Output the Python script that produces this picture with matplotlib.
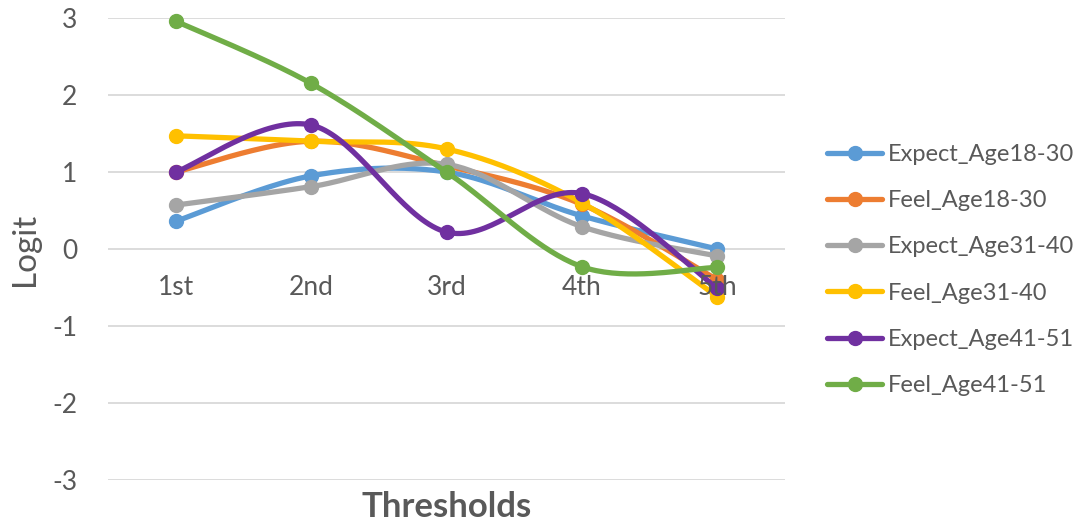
import numpy as np
import matplotlib
matplotlib.use("Agg")
import matplotlib.pyplot as plt

plt.rcParams['font.family'] = ['Lato', 'DejaVu Sans']
plt.rcParams['axes.unicode_minus'] = False

thresholds = ['1st', '2nd', '3rd', '4th', '5th']
series_names = ['Expect_Age18-30', 'Feel_Age18-30', 'Expect_Age31-40',
                'Feel_Age31-40', 'Expect_Age41-51', 'Feel_Age41-51']

expect_18_30 = [0.36, 0.95, 1.00, 0.43, 0.00]
feel_18_30 = [1.00, 1.40, 1.08, 0.58, -0.40]
expect_31_40 = [0.57, 0.81, 1.10, 0.29, -0.09]
feel_31_40 = [1.47, 1.40, 1.30, 0.60, -0.62]
expect_41_51 = [1.00, 1.61, 0.22, 0.72, -0.51]
feel_41_51 = [2.96, 2.15, 1.00, -0.23, -0.24]

colors = ['#5B9BD5', '#ED7D31', '#A5A5A5', '#FFC000', '#7030A0', '#70AD47']
TEXT = '#595959'
GRID = '#D9D9D9'


def smooth(xs, ys, n=40):
    """Cubic Bezier through the points, tangents like a Catmull-Rom spline."""
    pts = np.column_stack([xs, ys]).astype(float)
    padded = np.vstack([pts[0], pts, pts[-1]])
    out = []
    t = np.linspace(0, 1, n)[:, None]
    for i in range(len(pts) - 1):
        p0, p1 = padded[i + 1], padded[i + 2]
        c1 = p0 + (padded[i + 2] - padded[i]) / 6
        c2 = p1 - (padded[i + 3] - padded[i + 1]) / 6
        seg = ((1 - t) ** 3) * p0 + 3 * ((1 - t) ** 2) * t * c1 \
            + 3 * (1 - t) * t ** 2 * c2 + t ** 3 * p1
        out.append(seg if i == 0 else seg[1:])
    out = np.vstack(out)
    return out[:, 0], out[:, 1]


W, H = 1081, 528
fig = plt.figure(figsize=(W / 100, H / 100), dpi=100)
ax = fig.add_axes([108 / W, 1 - 480 / H, (785 - 108) / W, (480 - 18) / H])

x = np.arange(len(thresholds))
all_series = [expect_18_30, feel_18_30, expect_31_40,
              feel_31_40, expect_41_51, feel_41_51]

for name, vals, col in zip(series_names, all_series, colors):
    sx, sy = smooth(x, vals)
    ax.plot(sx, sy, color=col, lw=3.8, solid_capstyle='round', zorder=3)
    ax.plot(x, vals, 'o', color=col, ms=10, zorder=3, clip_on=False)
    # proxy for the legend: line with a marker in the middle
    ax.plot([], [], color=col, lw=3.8, marker='o', ms=10,
            solid_capstyle='round', label=name)

ax.set_xlim(-0.5, len(thresholds) - 0.5)
ax.set_ylim(-3, 3)
ax.set_yticks(range(-3, 4))
ax.set_xticks([])
ax.grid(axis='y', color=GRID, lw=1.3)
ax.set_axisbelow(True)
for s in ax.spines.values():
    s.set_visible(False)
ax.tick_params(axis='y', length=0, pad=22, labelsize=19, labelcolor=TEXT)

# category labels sit just under the zero line
for i, lab in enumerate(thresholds):
    ax.text(i, -0.5, lab, ha='center', va='center', fontsize=19, color=TEXT)

fig.text(25 / W, 1 - 249 / H, 'Logit', rotation=90, ha='center',
         va='center', fontsize=24, color=TEXT)
fig.text(447 / W, 1 - 507 / H, 'Thresholds', ha='center', va='center',
         fontsize=25, fontweight='bold', color=TEXT)

fig.legend(loc='center left', bbox_to_anchor=(815 / W, 1 - 270 / H),
           frameon=False, fontsize=17, labelcolor=TEXT, handlelength=2.35,
           handletextpad=0.25, labelspacing=1.07, borderpad=0)

fig.savefig('out.png', dpi=100, facecolor='white')
